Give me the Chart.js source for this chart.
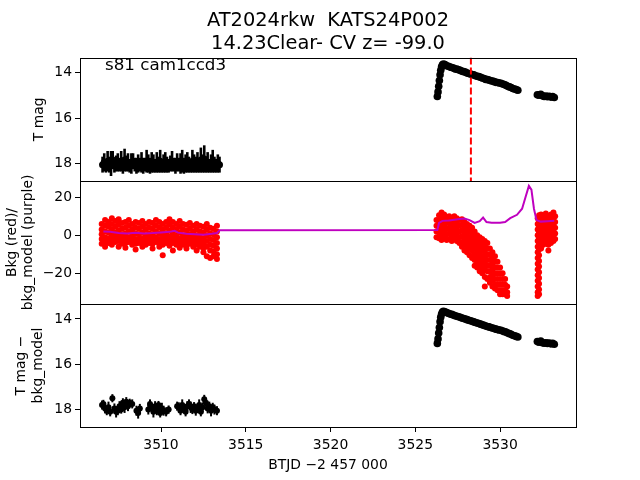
<!DOCTYPE html>
<html lang="en">
<head>
  <meta charset="UTF-8" />
  <title>AT2024rkw KATS24P002</title>
  <script src="https://cdn.jsdelivr.net/npm/chart.js"></script>
  <style>
    body { margin: 0; background: #fff; }
    #wrap { position: relative; width: 640px; height: 480px; }
    canvas { position: absolute; left: 0; top: 0; }
  </style>
</head>
<body>
  <div id="wrap">
    <canvas id="top" width="640" height="480"></canvas>
    <canvas id="mid" width="640" height="480"></canvas>
    <canvas id="bot" width="640" height="480"></canvas>
  </div>
  <script>
    // axis ranges and ticks
    const xMin = 3505.22, xMax = 3534.48;
    const xTicks = [3510, 3515, 3520, 3525, 3530];
    const magTicks = [14, 16, 18];
    const bkgTicks = [-20, 0, 20];
    const flareTime = 3528.28;

    // panel 1: T mag, quiescent part (with error bars)
    const quietT = [
      3506.55, 3506.65, 3506.75, 3506.85, 3506.95, 3507.05, 3507.15, 3507.25, 3507.35, 3507.45,
      3507.55, 3507.65, 3507.75, 3507.85, 3507.95, 3508.05, 3508.15, 3508.25, 3508.35, 3508.45,
      3508.55, 3508.65, 3508.75, 3508.85, 3508.95, 3509.05, 3509.15, 3509.25, 3509.35, 3509.45,
      3509.55, 3509.65, 3509.75, 3509.85, 3509.95, 3510.05, 3510.15, 3510.25, 3510.35, 3510.45,
      3510.55, 3510.65, 3510.75, 3510.85, 3510.95, 3511.05, 3511.15, 3511.25, 3511.35, 3511.45,
      3511.55, 3511.65, 3511.75, 3511.85, 3511.95, 3512.05, 3512.15, 3512.25, 3512.35, 3512.45,
      3512.55, 3512.65, 3512.75, 3512.85, 3512.95, 3513.05, 3513.15, 3513.25, 3513.35, 3513.45
    ];
    const quietMag = [
      18.05, 17.95, 18.1, 17.9, 18.05, 18.0, 17.85, 18.1, 18.0, 17.95,
      18.05, 17.9, 18.1, 17.85, 18.0, 17.95, 18.1, 18.0, 17.9, 18.05,
      18.1, 18.0, 18.05, 17.95, 18.1, 18.05, 17.9, 18.0, 18.1, 17.95,
      18.0, 18.1, 17.95, 18.05, 17.9, 18.1, 18.0, 17.95, 18.05, 18.1,
      18.0, 17.9, 18.05, 18.1, 17.95, 18.05, 18.0, 17.9, 18.1, 18.0,
      17.95, 18.05, 18.1, 17.9, 18.0, 18.05, 17.95, 18.1, 17.85, 18.0,
      17.8, 18.05, 17.95, 18.1, 18.0, 17.9, 18.05, 18.1, 18.0, 18.05
    ];
    const quietErr = [
      0.35, 0.4, 0.3, 0.45, 0.35, 0.55, 0.4, 0.3, 0.35, 0.4,
      0.3, 0.45, 0.35, 0.5, 0.35, 0.4, 0.3, 0.45, 0.35, 0.3,
      0.35, 0.4, 0.3, 0.45, 0.35, 0.3, 0.5, 0.4, 0.35, 0.45,
      0.4, 0.3, 0.45, 0.35, 0.5, 0.3, 0.4, 0.45, 0.35, 0.3,
      0.35, 0.45, 0.3, 0.35, 0.4, 0.3, 0.45, 0.5, 0.35, 0.4,
      0.45, 0.35, 0.3, 0.5, 0.4, 0.35, 0.45, 0.3, 0.55, 0.4,
      0.6, 0.35, 0.45, 0.3, 0.4, 0.5, 0.35, 0.3, 0.4, 0.35
    ];

    // outburst (panels 1 and 3 share times)
    const burstT = [
      3526.30, 3526.34, 3526.38, 3526.42, 3526.46, 3526.50, 3526.55, 3526.60, 3526.66,
      3526.75, 3526.85, 3526.95,
      3527.05, 3527.15, 3527.25, 3527.35, 3527.45, 3527.55, 3527.65, 3527.75, 3527.85, 3527.95,
      3528.05, 3528.15, 3528.25, 3528.35, 3528.45, 3528.55, 3528.65, 3528.75, 3528.85, 3528.95,
      3529.05, 3529.15, 3529.25, 3529.35, 3529.45, 3529.55, 3529.65, 3529.75, 3529.85, 3529.95,
      3530.05, 3530.15, 3530.25, 3530.35, 3530.45, 3530.55, 3530.65, 3530.75, 3530.85, 3530.95,
      3531.05
    ];
    const burstMag = [
      15.05, 14.85, 14.6, 14.35, 14.1, 13.9, 13.75, 13.66, 13.62,
      13.65, 13.7, 13.72,
      13.76, 13.78, 13.8, 13.84, 13.85, 13.88, 13.9, 13.94, 13.96, 13.98,
      14.02, 14.04, 14.06, 14.09, 14.1, 14.14, 14.16, 14.18, 14.21, 14.24,
      14.26, 14.3, 14.31, 14.33, 14.36, 14.37, 14.4, 14.43, 14.44, 14.46,
      14.47, 14.5, 14.53, 14.56, 14.6, 14.63, 14.66, 14.7, 14.72, 14.75,
      14.78
    ];
    const lateT = [3532.2, 3532.3, 3532.4, 3532.5, 3532.6, 3532.7, 3532.8, 3532.9, 3533.0, 3533.1, 3533.2];
    const lateMag = [14.98, 15.0, 14.96, 15.02, 15.05, 15.03, 15.06, 15.04, 15.08, 15.06, 15.1];

    // panel 3: T mag - bkg_model
    const subQuietT = [
      3506.52, 3506.6, 3506.7, 3506.8, 3506.9, 3507.0, 3507.13, 3507.25, 3507.35, 3507.45,
      3507.55, 3507.65, 3507.75, 3507.85, 3507.95, 3508.05, 3508.15, 3508.3, 3508.55, 3508.65,
      3508.75, 3509.25, 3509.35, 3509.45, 3509.55, 3509.65, 3509.75, 3509.85, 3509.95, 3510.05,
      3510.15, 3510.3, 3510.45, 3510.95, 3511.05, 3511.15, 3511.25, 3511.35, 3511.45, 3511.55,
      3511.65, 3511.75, 3511.85, 3511.95, 3512.05, 3512.15, 3512.25, 3512.35, 3512.45, 3512.55,
      3512.65, 3512.75, 3512.85, 3512.95, 3513.05, 3513.15, 3513.3
    ];
    const subQuietMag = [
      17.8, 17.75, 17.95, 18.05, 17.9, 18.1, 17.5, 17.95, 18.1, 18.05,
      17.85, 18.0, 17.7, 17.9, 17.65, 17.85, 17.7, 17.75, 18.05, 18.15,
      17.95, 18.0, 17.75, 17.9, 18.1, 17.85, 18.05, 17.8, 18.15, 17.95,
      18.05, 18.1, 18.0, 17.85, 17.9, 18.05, 17.8, 17.95, 18.1, 17.85,
      17.75, 17.9, 18.0, 17.85, 18.05, 17.95, 17.8, 18.1, 17.9, 17.55,
      17.7, 17.95, 17.85, 18.05, 17.9, 18.0, 18.05
    ];
    const subQuietErr = [
      0.2, 0.18, 0.22, 0.2, 0.25, 0.2, 0.18, 0.22, 0.25, 0.2,
      0.22, 0.18, 0.2, 0.25, 0.2, 0.22, 0.18, 0.2, 0.22, 0.25,
      0.2, 0.22, 0.2, 0.18, 0.25, 0.22, 0.2, 0.18, 0.2, 0.25,
      0.22, 0.2, 0.18, 0.2, 0.22, 0.2, 0.25, 0.18, 0.2, 0.22,
      0.2, 0.25, 0.2, 0.18, 0.22, 0.2, 0.25, 0.2, 0.22, 0.2,
      0.18, 0.22, 0.2, 0.25, 0.2, 0.22, 0.2
    ];
    const subBurstMag = [
      15.08, 14.88, 14.62, 14.38, 14.12, 13.92, 13.78, 13.7, 13.66,
      13.68, 13.72, 13.75,
      13.78, 13.8, 13.83, 13.86, 13.88, 13.9, 13.93, 13.96, 13.98, 14.0,
      14.03, 14.06, 14.08, 14.1, 14.13, 14.16, 14.18, 14.2, 14.23, 14.26,
      14.28, 14.31, 14.33, 14.35, 14.38, 14.4, 14.42, 14.45, 14.47, 14.49,
      14.5, 14.53, 14.56, 14.58, 14.62, 14.65, 14.68, 14.72, 14.74, 14.77,
      14.8
    ];
    const subLateMag = [15.0, 15.03, 14.98, 15.05, 15.07, 15.05, 15.08, 15.06, 15.1, 15.08, 15.12];

    // panel 2: background (red), one column of values per time
    const bkgT = [
      3506.5, 3506.7, 3506.9, 3507.1, 3507.3, 3507.5, 3507.7, 3507.9, 3508.1, 3508.3,
      3508.5, 3508.7, 3508.9, 3509.1, 3509.3, 3509.5, 3509.7, 3509.9, 3510.1, 3510.3,
      3510.5, 3510.7, 3510.9, 3511.1, 3511.3, 3511.5, 3511.7, 3511.9, 3512.1, 3512.3,
      3512.5, 3512.7, 3512.9, 3513.1, 3513.3,
      3526.25, 3526.4, 3526.55, 3526.7, 3526.85, 3527.0, 3527.15, 3527.3, 3527.45, 3527.6,
      3527.75, 3527.9, 3528.05, 3528.2, 3528.35, 3528.5, 3528.65, 3528.8, 3528.95, 3529.1,
      3529.25, 3529.4, 3529.55, 3529.7, 3529.85, 3530.0, 3530.15, 3530.3, 3530.42,
      3532.22, 3532.3, 3532.42, 3532.55, 3532.7, 3532.85, 3533.0, 3533.15, 3533.25
    ];
    const bkgV = [
      [6, 3, 0.5, -2, -4.5], [8, 5, 2, -1, -3.5, -6], [7, 4.5, 1.5, -1.5, -4], [9, 6, 3, 0, -2.5, -5],
      [7.5, 4.5, 1.5, -1, -3.5], [8.5, 5.5, 2.5, -0.5, -3, -6], [6.5, 3.5, 0.5, -2, -4.5],
      [7, 4, 1, -1.5, -4, -6.5], [8, 5, 2, -1, -3.5], [6, 3, 0, -2.5, -5],
      [7, 4, 1, -2, -4.5, -7.5], [6.5, 3.5, 0.5, -2, -4], [7.5, 4.5, 1.5, -1.5, -4, -6],
      [6, 3, 0, -2.5, -5], [7, 4, 1, -1.5, -4], [6.5, 3.5, 0.5, -2, -4.5, -7],
      [8, 5, 2, -1, -3.5], [7, 4, 1, -2, -4.5, -6], [6, 3, 0, -2.5, -5, -10.5],
      [7, 4, 1, -1.5, -4], [8.5, 5.5, 2.5, -0.5, -3, -5.5], [7, 4, 1, -1.5, -4, -8],
      [6, 3, 0, -2.5, -5], [7.5, 4.5, 1.5, -1.5, -4, -6.5], [6, 3, 0, -2.5, -5],
      [5.5, 2.5, -0.5, -3, -5.5, -7], [6.5, 3.5, 0.5, -2, -4.5], [5, 2, -1, -3.5, -6],
      [6, 3, 0, -2.5, -5, -8], [5, 2, -1, -3.5, -6], [4.5, 1.5, -1.5, -4, -6.5, -9],
      [6, 3, 0, -3, -6, -11], [4, 1, -2, -5, -8, -12], [3.5, 0.5, -2.5, -5.5, -8.5, -11],
      [5, 2, -1, -4, -7, -10, -12.5],
      [8, 5, 2, -1], [10.5, 7.5, 4.5, 1.5, -1.5], [12, 9, 6, 3, 0, -2.5], [11, 8, 5, 2, -1],
      [9.5, 6.5, 3.5, 0.5, -2.5], [10, 7, 4, 1, -2], [9, 6, 3, 0, -3], [10, 7, 4, 1, -2],
      [9, 6, 3, 0, -3], [8, 5, 2, -1, -4], [8.5, 5.5, 2.5, -0.5, -3.5, -6],
      [7, 4, 1, -2, -5, -8], [6, 3, 0, -3, -6, -9], [5, 2, -1, -4, -7, -10.5],
      [4, 1, -2, -5, -8, -12], [2, -1, -4, -7, -10, -13, -16], [0, -3, -6, -9, -12, -15, -17],
      [-1, -4, -7, -10, -13, -16, -19], [-2, -5, -8, -11, -14, -17, -20],
      [-3, -6, -9, -12, -15, -18, -22, -27], [-4, -7, -10, -13, -16, -19, -23],
      [-7, -10, -13, -16, -19, -22, -25], [-9, -12, -15, -18, -21, -24, -27],
      [-11, -14, -17, -20, -23, -26, -28], [-14, -17, -20, -23, -26, -29],
      [-17, -20, -23, -26, -29, -31], [-20, -23, -26, -29, -31], [-23, -26, -29, -31], [-27, -30, -32],
      [9, 6, 3, 0, -3, -6, -9, -12, -15, -18, -21, -24, -27, -30, -32],
      [10.5, 7.5, 4.5, 1.5, -1.5, -4.5, -7.5, -10.5, -13.5, -16.5, -19.5, -22.5, -25.5, -28.5, -31],
      [11, 8, 5, 2, -1, -4, -7], [10, 7, 4, 1, -2, -5], [11.5, 8.5, 5.5, 2.5, -0.5, -3.5],
      [10, 7, 4, 1, -2, -5, -8], [11, 8, 5, 2, -1, -4], [12, 9, 6, 3, 0, -3], [10, 7, 4, 1, -2]
    ];

    // panel 2: bkg_model (purple line)
    const modelT = [
      3506.6, 3507.0, 3507.5, 3508.0, 3508.5, 3509.0, 3509.5, 3510.0, 3510.5, 3510.8,
      3511.0, 3511.5, 3512.0, 3512.5, 3513.0, 3513.3, 3513.45,
      3526.3, 3526.4, 3526.6, 3527.0, 3527.5, 3527.9, 3528.2, 3528.5, 3528.8, 3529.0,
      3529.2, 3529.5, 3530.0, 3530.3, 3530.6, 3531.0, 3531.3, 3531.5, 3531.7, 3531.85,
      3532.0, 3532.15, 3532.4, 3532.8, 3533.2
    ];
    const modelV = [
      2.0, 1.8, 1.2, 1.0, 1.3, 1.0, 1.2, 1.5, 1.8, 2.4,
      1.4, 0.8, 0.6, 0.3, 0.8, 1.2, 2.7,
      2.8, 6.5, 7.6, 7.8, 8.4, 8.8, 8.0, 6.5, 7.4, 9.3,
      7.0, 6.6, 6.6, 7.0, 9.0, 10.8, 14, 20, 26, 24,
      14, 8, 7.2, 7.4, 7.6
    ];

    const FONT = 'DejaVu Sans';
    Chart.defaults.font.family = FONT;
    Chart.defaults.color = '#000';

    const toPoints = (xs, ys) => xs.map((x, i) => ({ x, y: ys[i] }));
    const bkgPoints = [];
    bkgT.forEach((t, i) => bkgV[i].forEach(v => bkgPoints.push({ x: t, y: v })));
    const fmt = v => (v < 0 ? '\u2212' + Math.abs(v) : String(v));

    // vertical error bars for datasets that carry an "errors" array
    const errorBars = {
      id: 'errorBars',
      beforeDatasetsDraw(chart) {
        const { ctx, scales: { x, y } } = chart;
        chart.data.datasets.forEach(ds => {
          if (!ds.errors) return;
          ctx.save();
          ctx.strokeStyle = ds.backgroundColor;
          ctx.lineWidth = ds.errorWidth || 2;
          ds.data.forEach((p, i) => {
            const px = x.getPixelForValue(p.x);
            ctx.beginPath();
            ctx.moveTo(px, y.getPixelForValue(p.y - ds.errors[i]));
            ctx.lineTo(px, y.getPixelForValue(p.y + ds.errors[i]));
            ctx.stroke();
          });
          ctx.restore();
        });
      }
    };

    // box around each panel, like matplotlib spines
    const frame = {
      id: 'frame',
      afterDraw(chart) {
        const { ctx, chartArea: a } = chart;
        ctx.save();
        ctx.strokeStyle = '#000';
        ctx.lineWidth = 1;
        ctx.strokeRect(Math.round(a.left) + 0.5, Math.round(a.top) + 0.5,
          Math.round(a.right - a.left), Math.round(a.bottom - a.top));
        ctx.restore();
      }
    };

    const cornerLabel = {
      id: 'cornerLabel',
      afterDraw(chart) {
        const ctx = chart.ctx;
        ctx.save();
        ctx.font = '16.7px ' + FONT;
        ctx.fillStyle = '#000';
        ctx.textBaseline = 'alphabetic';
        ctx.fillText('s81 cam1ccd3', chart.chartArea.left + 25, chart.chartArea.top + 12);
        ctx.restore();
      }
    };

    function yScale(min, max, ticks, reverse, title, titlePad) {
      return {
        type: 'linear', min, max, reverse,
        afterFit: s => { s.width = 80; },
        afterBuildTicks: s => { s.ticks = ticks.map(v => ({ value: v })); },
        grid: { drawOnChartArea: false, tickLength: 5, color: '#000' },
        border: { display: false },
        ticks: { padding: 3, font: { size: 13.9 }, callback: fmt },
        title: { display: true, text: title, font: { size: 13.9 }, padding: { top: titlePad, bottom: 0 } }
      };
    }
    const hiddenX = { type: 'linear', min: xMin, max: xMax, display: false };
    function base(padding, scales, extra) {
      return {
        responsive: false, animation: false,
        layout: { padding },
        plugins: Object.assign({ legend: { display: false }, tooltip: { enabled: false } }, extra || {}),
        scales
      };
    }
    const dot = (data, color, r) => ({ data, backgroundColor: color, borderWidth: 0, pointRadius: r, pointHoverRadius: r });

    const magMin = 13.34, magMax = 18.77;

    new Chart(document.getElementById('top'), {
      type: 'scatter',
      data: {
        datasets: [
          { data: [{ x: flareTime, y: magMin }, { x: flareTime, y: magMax }], showLine: true,
            borderColor: '#ff0000', borderWidth: 2, borderDash: [7, 3], pointRadius: 0 },
          dot(toPoints(burstT, burstMag), '#000', 3.8),
          dot(toPoints(lateT, lateMag), '#000', 3.8),
          Object.assign(dot(toPoints(quietT, quietMag), '#000', 3.5), { errors: quietErr, errorWidth: 2.6 })
        ]
      },
      options: base({ left: 0, right: 64, top: 0, bottom: 299 }, {
        x: hiddenX,
        y: yScale(magMin, magMax, magTicks, true, 'T mag', 31.5)
      }, {
        title: {
          display: true, fullSize: false, color: '#000',
          text: ['AT2024rkw  KATS24P002', '14.23Clear- CV z= -99.0'],
          font: { size: 19.4, weight: 'normal', lineHeight: 1.2 },
          padding: { top: 9, bottom: 2 }
        }
      }),
      plugins: [errorBars, frame, cornerLabel]
    });

    new Chart(document.getElementById('mid'), {
      type: 'scatter',
      data: {
        datasets: [
          { data: toPoints(modelT, modelV), showLine: true, borderColor: '#bf00bf',
            borderWidth: 2, pointRadius: 0, pointHoverRadius: 0 },
          dot(bkgPoints, '#ff0000', 3)
        ]
      },
      options: base({ left: 0, right: 64, top: 181, bottom: 176 }, {
        x: hiddenX,
        y: yScale(-36.2, 28.6, bkgTicks, false, ['Bkg (red)/', 'bkg_model (purple)'], 3.7)
      }),
      plugins: [frame]
    });

    new Chart(document.getElementById('bot'), {
      type: 'scatter',
      data: {
        datasets: [
          dot(toPoints(burstT, subBurstMag), '#000', 3.8),
          dot(toPoints(lateT, subLateMag), '#000', 3.8),
          Object.assign(dot(toPoints(subQuietT, subQuietMag), '#000', 3), { errors: subQuietErr })
        ]
      },
      options: base({ left: 0, right: 64, top: 304, bottom: 0 }, {
        x: {
          type: 'linear', min: xMin, max: xMax,
          afterFit: s => { s.height = 53; },
          afterBuildTicks: s => { s.ticks = xTicks.map(v => ({ value: v })); },
          grid: { drawOnChartArea: false, tickLength: 5, color: '#000' },
          border: { display: false },
          ticks: { padding: 5, font: { size: 13.9 }, maxRotation: 0, callback: v => String(v) },
          title: { display: true, text: 'BTJD \u22122 457 000', font: { size: 13.9 }, padding: { top: 0, bottom: 6 } }
        },
        y: yScale(magMin, magMax, magTicks, true, ['T mag \u2212', 'bkg_model'], 13.5)
      }),
      plugins: [errorBars, frame]
    });
  </script>
</body>
</html>
